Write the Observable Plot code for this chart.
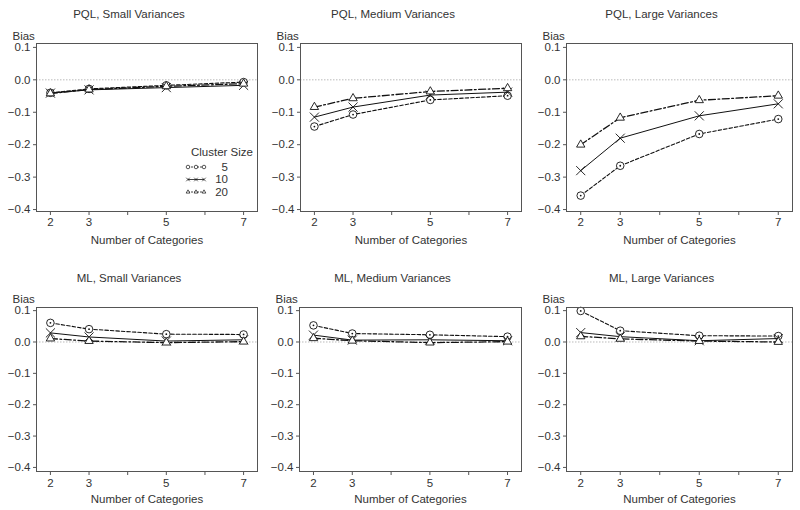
<!DOCTYPE html>
<html>
<head>
<meta charset="utf-8">
<script src="https://cdn.jsdelivr.net/npm/d3@7"></script>
<script src="https://cdn.jsdelivr.net/npm/@observablehq/plot@0.6"></script>
<style>
  html, body { margin: 0; padding: 0; background: #fff; }
  #root { position: relative; width: 800px; height: 510px; background: #fff; overflow: hidden; }
  .panel { position: absolute; }
  .panel svg { overflow: visible; }
</style>
</head>
<body>
<div id="root"></div>
<script>
// ---- Data ----
const categories = [2, 3, 5, 7];
const clusterSizes = ["5", "10", "20"];
const panelTitles = [
  "PQL, Small Variances", "PQL, Medium Variances", "PQL, Large Variances",
  "ML, Small Variances", "ML, Medium Variances", "ML, Large Variances"
];
const yTicks = [0.1, 0.0, -0.1, -0.2, -0.3, -0.4];
const xTicks = [2, 3, 4, 5, 6, 7];
const xTickLabels = [2, 3, 5, 7];

// bias values: [size5, size10, size20] per panel
const pqlSmall5  = [-0.040, -0.028, -0.017, -0.007];
const pqlSmall10 = [-0.041, -0.031, -0.024, -0.017];
const pqlSmall20 = [-0.042, -0.030, -0.020, -0.012];

const pqlMedium5  = [-0.144, -0.107, -0.062, -0.049];
const pqlMedium10 = [-0.115, -0.084, -0.047, -0.038];
const pqlMedium20 = [-0.084, -0.057, -0.036, -0.026];

const pqlLarge5  = [-0.357, -0.265, -0.167, -0.121];
const pqlLarge10 = [-0.280, -0.180, -0.111, -0.074];
const pqlLarge20 = [-0.200, -0.117, -0.063, -0.049];

const mlSmall5  = [0.061, 0.041, 0.025, 0.024];
const mlSmall10 = [0.029, 0.016, 0.003, 0.007];
const mlSmall20 = [0.011, 0.003, -0.002, 0.001];

const mlMedium5  = [0.053, 0.027, 0.023, 0.017];
const mlMedium10 = [0.022, 0.006, 0.007, 0.004];
const mlMedium20 = [0.012, 0.004, -0.002, 0.001];

const mlLarge5  = [0.099, 0.036, 0.020, 0.019];
const mlLarge10 = [0.030, 0.017, 0.004, 0.011];
const mlLarge20 = [0.018, 0.010, 0.003, 0.000];

const panelSeries = [
  [pqlSmall5, pqlSmall10, pqlSmall20],
  [pqlMedium5, pqlMedium10, pqlMedium20],
  [pqlLarge5, pqlLarge10, pqlLarge20],
  [mlSmall5, mlSmall10, mlSmall20],
  [mlMedium5, mlMedium10, mlMedium20],
  [mlLarge5, mlLarge10, mlLarge20]
];

// ---- Styles ----
const FONT = "'Liberation Sans', Arial, sans-serif";
const INK = "#333";
const seriesStyle = {
  "5":  {dash: "3.5,2", symbol: "circle", width: 1.1, r: 3.8},
  "10": {dash: null, symbol: "times", width: 1, r: 4.2},
  "20": {dash: "7,2.5,1.8,2.5", symbol: "triangle", width: 1.3, r: 3.1}
};

// layout per panel
const layouts = [
  {left: 0,   width: 265, top: 0,   height: 255, mt: 43, mb: 44, yd: [-0.406, 0.112], fr: 257},
  {left: 264, width: 265, top: 0,   height: 255, mt: 43, mb: 44, yd: [-0.406, 0.112], fr: 257},
  {left: 530, width: 270, top: 0,   height: 255, mt: 43, mb: 44, yd: [-0.406, 0.112], fr: 262},
  {left: 0,   width: 265, top: 255, height: 255, mt: 52, mb: 39, yd: [-0.413, 0.110], fr: 257},
  {left: 263, width: 266, top: 255, height: 255, mt: 52, mb: 39, yd: [-0.413, 0.110], fr: 258},
  {left: 530, width: 270, top: 255, height: 255, mt: 52, mb: 39, yd: [-0.413, 0.110], fr: 262}
];

const root = document.getElementById("root");
const fmtY = d3.format(".1f");

panelTitles.forEach((title, i) => {
  const L = layouts[i];
  const top = i < 3;
  const rows = [];
  panelSeries[i].forEach((vals, s) => {
    vals.forEach((v, k) => rows.push({cat: categories[k], bias: v, size: clusterSizes[s]}));
  });

  const seriesMarks = [];
  clusterSizes.forEach(sz => {
    const st = seriesStyle[sz];
    const d = rows.filter(r => r.size === sz);
    seriesMarks.push(Plot.line(d, {
      x: "cat", y: "bias", stroke: "#111", strokeWidth: st.width,
      strokeDasharray: st.dash || undefined
    }));
    seriesMarks.push(Plot.dot(d, {
      x: "cat", y: "bias", symbol: () => st.symbol, r: st.r,
      stroke: "#111", strokeWidth: 0.9, fill: st.symbol === "times" ? "none" : "white"
    }));
    if (st.symbol === "circle") {
      seriesMarks.push(Plot.dot(d, {x: "cat", y: "bias", r: 0.9, fill: "#111", stroke: "none"}));
    }
  });

  const chart = Plot.plot({
    width: L.width,
    height: L.height,
    marginLeft: 36,
    marginRight: L.width - L.fr,
    marginTop: L.mt,
    marginBottom: L.mb,
    x: {type: "linear", domain: [1.64, 7.36]},
    y: {type: "linear", domain: L.yd},
    style: {fontFamily: FONT, fontSize: "11.5px", color: INK, background: "white", overflow: "visible"},
    marks: [
      Plot.ruleY([0], {stroke: "#aaa", strokeWidth: 0.8, strokeDasharray: "1.5,1.5"}),
      Plot.axisY({ticks: yTicks, tickSize: 3, tickPadding: 3, tickFormat: fmtY, label: null, stroke: "#555"}),
      Plot.axisX({ticks: xTicks, tickSize: 4, tickPadding: top ? 2 : 3,
        tickFormat: d => xTickLabels.includes(d) ? String(d) : "", label: null, stroke: "#555"}),
      ...seriesMarks,
      Plot.frame({stroke: "#555", strokeWidth: 1}),
      Plot.text([title], {frameAnchor: "top", lineAnchor: "middle", dy: -29, dx: -18, fill: INK, fontSize: 11.5}),
      Plot.text(["Bias"], {frameAnchor: "top-left", lineAnchor: "middle", dx: -24, dy: top ? -7 : -8, textAnchor: "start", fill: INK, fontSize: 11.5}),
      Plot.text(["Number of Categories"], {frameAnchor: "bottom", lineAnchor: "middle", dy: top ? 29 : 28, fill: INK, fontSize: 11.5})
    ]
  });
  const div = document.createElement("div");
  div.className = "panel";
  div.style.left = L.left + "px";
  div.style.top = L.top + "px";
  div.appendChild(chart);
  root.appendChild(div);
});

// ---- Legend (inside first panel) ----
const legend = d3.select(root).append("svg")
  .attr("width", 80).attr("height", 60)
  .style("position", "absolute").style("left", "180px").style("top", "140px")
  .style("font-family", FONT).style("font-size", "11.5px");
legend.append("text").attr("x", 11).attr("y", 12).attr("dy", "0.32em").style("fill", INK).text("Cluster Size");
const symGen = {
  circle: d3.symbolCircle, times: d3.symbolTimes, triangle: d3.symbolTriangle2
};
clusterSizes.forEach((sz, j) => {
  const st = seriesStyle[sz];
  const y = 27 + j * 12.5;
  const g = legend.append("g");
  g.append("line").attr("x1", 8).attr("x2", 24).attr("y1", y).attr("y2", y)
    .attr("stroke", "#111").attr("stroke-width", 0.8)
    .attr("stroke-dasharray", st.dash ? "2,1" : null);
  [8, 16, 24].forEach(x => {
    g.append("path").attr("transform", `translate(${x},${y})`)
      .attr("d", d3.symbol(symGen[st.symbol], 10)())
      .attr("fill", "white").attr("stroke", "#111").attr("stroke-width", 0.7);
  });
  legend.append("text").attr("x", 48).attr("y", y).attr("dy", "0.32em")
    .attr("text-anchor", "end").style("fill", INK).text(sz);
});
</script>
</body>
</html>
